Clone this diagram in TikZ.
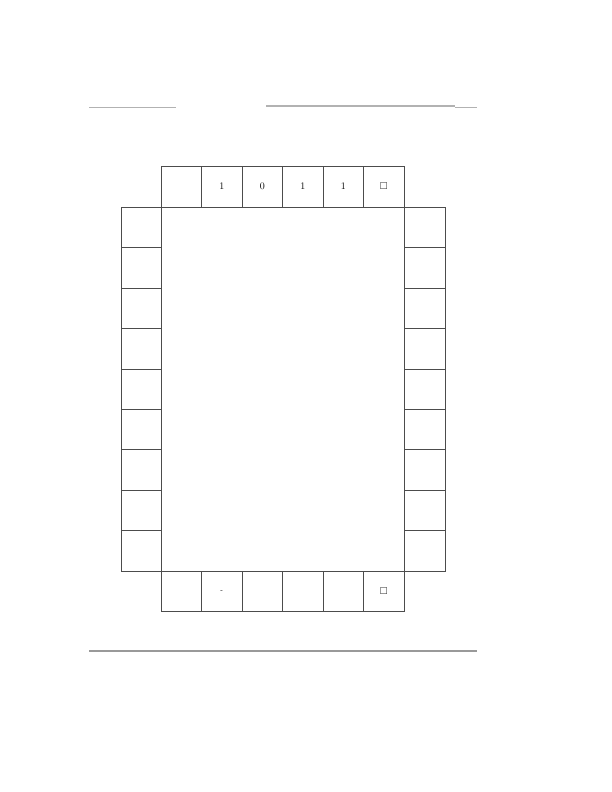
\documentclass[tikz,border=0pt]{standalone}
\usepackage{amssymb}
\begin{document}
\begin{tikzpicture}[x=1bp,y=-1bp,
  cell/.style={draw=black!70,line width=0.5bp,minimum width=40.5bp,minimum height=40.5bp,inner sep=0pt,outer sep=0pt,font=\normalsize},
  rule/.style={draw=black!30,line width=1bp}]
\useasboundingbox (0,0) rectangle (612,792);
% top row
\foreach \i/\t in {0/{},1/1,2/0,3/1,4/1,5/{$\square$}} {
  \node[cell] (t\i) at ({161+40.5*\i+20.25},186.5) {\t};
}
% bottom row
\foreach \i/\t in {0/{},1/{\scriptsize -},2/{},3/{},4/{},5/{$\square$}} {
  \node[cell] (b\i) at ({161+40.5*\i+20.25},591.2) {\t};
}
% left and right columns
\foreach \j in {0,...,8} {
  \node[cell] (l\j) at (141,{207+40.45*\j+20.22}) {};
  \node[cell] (r\j) at (424.5,{207+40.45*\j+20.22}) {};
}
% central area
\draw[draw=black!70,line width=0.5bp] (l0.north east) rectangle (r8.south west);
% rules
\coordinate (a1) at (89,107); \coordinate (a2) at (176,107);
\coordinate (c1) at (266,106); \coordinate (c2) at (455,106);
\coordinate (c3) at (455,107); \coordinate (c4) at (477,107);
\coordinate (d1) at (89,651); \coordinate (d2) at (477,651);
\draw[rule] (a1) -- (a2);
\draw[rule,line width=1.2bp] (c1) -- (c2);
\draw[rule,line width=0.8bp] (c3) -- (c4);
\draw[rule,draw=black!40,line width=1.2bp] (d1) -- (d2);
\end{tikzpicture}
\end{document}
